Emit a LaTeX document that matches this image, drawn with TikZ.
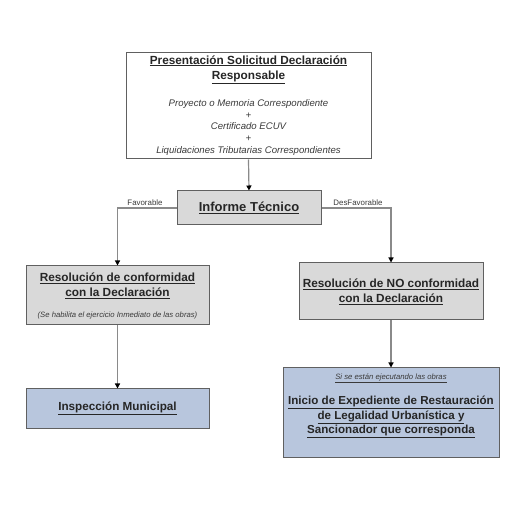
\documentclass[tikz,border=0pt]{standalone}
\usepackage{fontspec}
\setmainfont{Liberation Sans}
\usetikzlibrary{arrows.meta}
\definecolor{boxgray}{HTML}{D9D9D9}
\definecolor{boxblue}{HTML}{B8C6DD}
\definecolor{edge}{HTML}{606060}
\definecolor{conn}{HTML}{8A8A8A}
\definecolor{ink}{HTML}{262626}
\definecolor{inklight}{HTML}{3A3A3A}
\tikzset{
  box/.style={draw=edge, line width=1pt, inner sep=0pt, align=center},
  conn/.style={draw=conn, line width=1.2pt, -{Triangle[length=5pt,width=5pt,color=black]}},
  txt/.style={inner sep=0pt, align=center, text=ink},
  lbl/.style={font=\fontsize{7.9}{9}\selectfont, inner sep=0pt, text=inklight}
}
\newcommand{\ttl}[1]{\textbf{\underline{#1}}}
\begin{document}
\begin{tikzpicture}[x=1pt,y=-1pt]
\useasboundingbox (0,0) rectangle (522,510);
\fill[white] (0,0) rectangle (522,510);
% boxes
\node[box, fill=white, minimum width=245pt, minimum height=106pt] (top) at (248.5,106) {};
\node[box, fill=boxgray, minimum width=144pt, minimum height=34pt] (inf) at (249,208) {};
\node[box, fill=boxgray, minimum width=183pt, minimum height=59pt] (conf) at (117.5,295.5) {};
\node[box, fill=boxgray, minimum width=184pt, minimum height=57pt] (noconf) at (391,291.5) {};
\node[box, fill=boxblue, minimum width=183pt, minimum height=39pt] (insp) at (117.5,408.5) {};
\node[box, fill=boxblue, minimum width=216pt, minimum height=89pt] (exp) at (391,412.5) {};
% texts
\node[txt, font=\fontsize{11.8}{15}\selectfont] (toptitle) at (248.5,69.5) {\ttl{Presentación Solicitud Declaración}\\\ttl{Responsable}};
\node[txt, text=inklight, font=\fontsize{9.6}{11.8}\selectfont\itshape] (toplist) at (248.5,127.5) {Proyecto o Memoria Correspondiente\\+\\Certificado ECUV\\+\\Liquidaciones Tributarias Correspondientes};
\node[txt, font=\fontsize{13}{15}\selectfont] (inftxt) at (inf) {\ttl{Informe Técnico}};
\node[txt, font=\fontsize{11.8}{15}\selectfont] (conftxt) at (117.5,285.5) {\ttl{Resolución de conformidad}\\\ttl{con la Declaración}};
\node[txt, text=inklight, font=\fontsize{7.7}{9}\selectfont\itshape] (confsub) at (117.5,315.5) {(Se habilita el ejercicio Inmediato de las obras)};
\node[txt, font=\fontsize{11.8}{15}\selectfont] (noconftxt) at (391,292) {\ttl{Resolución de NO conformidad}\\\ttl{con la Declaración}};
\node[txt, font=\fontsize{11.7}{13}\selectfont] (insptxt) at (insp) {\ttl{Inspección Municipal}};
\node[txt, text=inklight, font=\fontsize{7.7}{9}\selectfont\itshape] (expsub) at (391,378.5) {\underline{Si se están ejecutando las obras}};
\node[txt, font=\fontsize{11.6}{14.5}\selectfont] (exptxt) at (391,417) {\ttl{Inicio de Expediente de Restauración}\\\ttl{de Legalidad Urbanística y}\\\ttl{Sancionador que corresponda}};
% connectors
\draw[conn] (top.south) -- (inf.north);
\draw[conn] (inf.west) -| (conf.north);
\draw[conn] (inf.east) -| (noconf.north);
\draw[conn] (conf.south) -- (insp.north);
\draw[conn] (noconf.south) -- (exp.north);
% labels
\node[lbl] (fav) at (145,202.5) {Favorable};
\node[lbl] (desfav) at (358,203) {DesFavorable};
\end{tikzpicture}
\end{document}
